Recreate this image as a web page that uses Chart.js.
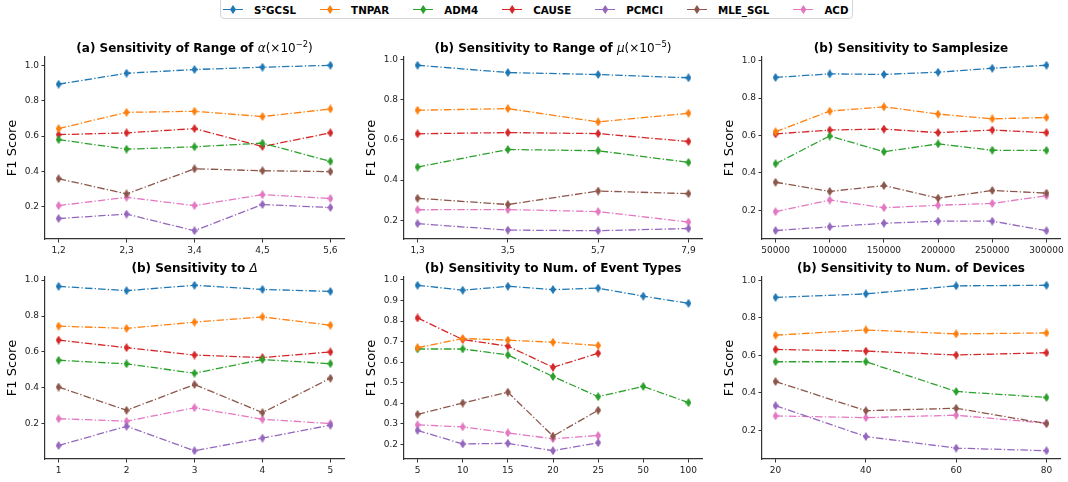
<!DOCTYPE html>
<html>
<head>
<meta charset="utf-8">
<script src="https://cdn.jsdelivr.net/npm/chart.js@4.4.1/dist/chart.umd.min.js"></script>
<style>
  body { margin: 0; width: 1068px; height: 482px; background: #fff; position: relative; overflow: hidden; font-family: "DejaVu Sans", sans-serif; }
  canvas { position: absolute; }
  #legend { position: absolute; left: 220px; top: -4px; width: 633px; height: 23px; border: 1px solid #d6d6d6; border-radius: 4px;
            display: flex; align-items: center; padding: 4px 0 0 2px; box-sizing: border-box; white-space: nowrap; }
  #legend .it { display: flex; align-items: center; margin-right: 24px; }
  #legend .ln { position: relative; width: 20px; height: 1.5px; margin-right: 11px; }
  #legend .ln i { position: absolute; left: 7px; top: -3.75px; width: 6px; height: 9px; clip-path: polygon(50% 0, 100% 50%, 50% 100%, 0 50%); }
  #legend b { font-size: 10.3px; color: #000; }
</style>
</head>
<body>
<div id="legend"></div>
<canvas id="c1"></canvas>
<canvas id="c2"></canvas>
<canvas id="c3"></canvas>
<canvas id="c4"></canvas>
<canvas id="c5"></canvas>
<canvas id="c6"></canvas>
<script>
// methods and colours (same order in every panel)
var methods = ['S²GCSL', 'TNPAR', 'ADM4', 'CAUSE', 'PCMCI', 'MLE_SGL', 'ACD'];
var colors = ['#1f77b4', '#ff7f0e', '#2ca02c', '#d62728', '#9467bd', '#8c564b', '#e377c2'];

// (a) range of alpha
var alphaLabels = ['1,2', '2,3', '3,4', '4,5', '5,6'];
var alphaF1 = [
  [0.893, 0.955, 0.976, 0.989, 1.000],
  [0.642, 0.734, 0.740, 0.710, 0.753],
  [0.580, 0.526, 0.539, 0.560, 0.457],
  [0.608, 0.618, 0.642, 0.541, 0.618],
  [0.134, 0.159, 0.065, 0.213, 0.196],
  [0.359, 0.273, 0.415, 0.404, 0.399],
  [0.207, 0.254, 0.207, 0.269, 0.247]
];

// (b) range of mu
var muLabels = ['1,3', '3,5', '5,7', '7,9'];
var muF1 = [
  [0.970, 0.934, 0.924, 0.908],
  [0.747, 0.755, 0.689, 0.732],
  [0.465, 0.552, 0.546, 0.488],
  [0.630, 0.636, 0.631, 0.592],
  [0.184, 0.152, 0.149, 0.160],
  [0.310, 0.279, 0.346, 0.333],
  [0.253, 0.254, 0.244, 0.192]
];

// sample size
var sampleSizes = [50000, 100000, 150000, 200000, 250000, 300000];
var sampleF1 = [
  [0.910, 0.929, 0.926, 0.938, 0.959, 0.975],
  [0.620, 0.730, 0.753, 0.714, 0.689, 0.696],
  [0.449, 0.597, 0.513, 0.555, 0.521, 0.520],
  [0.608, 0.629, 0.634, 0.615, 0.629, 0.615],
  [0.092, 0.112, 0.131, 0.142, 0.142, 0.091],
  [0.350, 0.301, 0.332, 0.265, 0.306, 0.292],
  [0.193, 0.255, 0.214, 0.227, 0.237, 0.278]
];

// delta
var deltaValues = [1, 2, 3, 4, 5];
var deltaF1 = [
  [0.965, 0.941, 0.971, 0.948, 0.937],
  [0.744, 0.731, 0.766, 0.795, 0.749],
  [0.554, 0.534, 0.482, 0.558, 0.535],
  [0.666, 0.624, 0.583, 0.569, 0.600],
  [0.080, 0.187, 0.051, 0.121, 0.193],
  [0.405, 0.276, 0.419, 0.263, 0.454],
  [0.229, 0.215, 0.290, 0.226, 0.202]
];

// number of event types (only S2GCSL and ADM4 go past 25)
var eventLabels = ['5', '10', '15', '20', '25', '50', '100'];
var eventF1 = [
  [0.974, 0.950, 0.969, 0.953, 0.960, 0.921, 0.886],
  [0.670, 0.715, 0.707, 0.697, 0.681, null, null],
  [0.664, 0.664, 0.635, 0.530, 0.432, 0.482, 0.403],
  [0.815, 0.710, 0.678, 0.575, 0.643, null, null],
  [0.268, 0.202, 0.205, 0.169, 0.208, null, null],
  [0.346, 0.401, 0.454, 0.240, 0.366, null, null],
  [0.295, 0.285, 0.256, 0.227, 0.243, null, null]
];

// number of devices
var deviceCounts = [20, 40, 60, 80];
var deviceF1 = [
  [0.910, 0.929, 0.972, 0.975],
  [0.708, 0.736, 0.715, 0.720],
  [0.566, 0.566, 0.407, 0.375],
  [0.632, 0.623, 0.602, 0.614],
  [0.331, 0.166, 0.104, 0.090],
  [0.460, 0.304, 0.317, 0.235],
  [0.276, 0.267, 0.280, 0.237]
];

var yTicksCoarse = [0.2, 0.4, 0.6, 0.8, 1.0];
var yTicksFine = [0.2, 0.3, 0.4, 0.5, 0.6, 0.7, 0.8, 0.9, 1.0];

var BOLD = 'bold 12px "DejaVu Sans"';
var REG = '12px "DejaVu Sans"';
var ITAL = 'italic 12px "DejaVu Sans"';
var SUP = '8.4px "DejaVu Sans"';

//thin diamond marker, one per colour
function diamond(color) {
  var c = document.createElement('canvas');
  c.width = 6; c.height = 9;
  var g = c.getContext('2d');
  g.fillStyle = color;
  g.beginPath();
  g.moveTo(3, 0); g.lineTo(6, 4.5); g.lineTo(3, 9); g.lineTo(0, 4.5);
  g.closePath();
  g.fill();
  return c;
}

//title drawn over the plot area, with mixed bold / math parts
var panelTitle = {
  id: 'panelTitle',
  afterDraw: function(chart, args, opts) {
    var ctx = chart.ctx, a = chart.chartArea, w = 0;
    ctx.save();
    ctx.fillStyle = '#000';
    ctx.textBaseline = 'alphabetic';
    opts.parts.forEach(function(p) { ctx.font = p.font; w += ctx.measureText(p.text).width; });
    var x = (a.left + a.right) / 2 - w / 2;
    opts.parts.forEach(function(p) {
      ctx.font = p.font;
      ctx.fillText(p.text, x, a.top - 5.5 - (p.rise || 0));
      x += ctx.measureText(p.text).width;
    });
    ctx.restore();
  }
};

//matplotlib style 5% margins
function padRange(vals) {
  var lo = Math.min.apply(null, vals), hi = Math.max.apply(null, vals);
  var m = (hi - lo) * 0.05;
  return [lo - m, hi + m];
}

function makePanel(id, box, parts, xs, xLabels, scores, yTicks) {
  var cv = document.getElementById(id);
  cv.width = box.R - box.L + 55;
  cv.height = box.B - box.T + 53;
  cv.style.left = (box.L - 45) + 'px';
  cv.style.top = (box.T - 30) + 'px';

  var all = [];
  scores.forEach(function(s) { s.forEach(function(v) { if (v !== null) all.push(v); }); });
  var yr = padRange(all);
  var xr = padRange(xs);

  var datasets = scores.map(function(s, i) {
    return {
      label: methods[i],
      data: s.map(function(v, j) { return {x: xs[j], y: v}; }),
      borderColor: colors[i],
      backgroundColor: colors[i],
      borderWidth: 1.3,
      borderDash: [7.5, 2.2, 1.3, 2.2],
      pointStyle: diamond(colors[i]),
      tension: 0,
      spanGaps: false
    };
  });

  var tickFont = {family: 'DejaVu Sans', size: 9};
  return new Chart(cv, {
    type: 'line',
    data: {datasets: datasets},
    plugins: [panelTitle],
    options: {
      responsive: false,
      animation: false,
      events: [],
      layout: {padding: {top: 30, right: 10, left: 0, bottom: 0}},
      plugins: {
        legend: {display: false},
        tooltip: {enabled: false},
        panelTitle: {parts: parts}
      },
      scales: {
        x: {
          type: 'linear',
          min: xr[0], max: xr[1],
          afterBuildTicks: function(sc) { sc.ticks = xs.map(function(v) { return {value: v}; }); },
          afterFit: function(sc) { sc.height = 23; sc.paddingLeft = 0; sc.paddingRight = 0; },
          ticks: {
            font: tickFont, color: '#222', padding: 3, maxRotation: 0, autoSkip: false,
            callback: function(v) {
              if (xLabels) return xLabels[xs.indexOf(v)];
              return String(v);
            }
          },
          grid: {drawOnChartArea: false, drawTicks: true, tickLength: 3.5, color: '#333', lineWidth: 1},
          border: {display: true, color: '#333', width: 1.2}
        },
        y: {
          type: 'linear',
          min: yr[0], max: yr[1],
          afterBuildTicks: function(sc) { sc.ticks = yTicks.map(function(v) { return {value: v}; }); },
          afterFit: function(sc) { sc.width = 45; sc.paddingTop = 0; sc.paddingBottom = 0; },
          ticks: {
            font: tickFont, color: '#222', padding: 2.5,
            callback: function(v) { return v.toFixed(1); }
          },
          title: {display: true, text: 'F1 Score', color: '#000', font: {family: 'DejaVu Sans', size: 13}, padding: {top: 5, bottom: 0}},
          grid: {drawOnChartArea: false, drawTicks: true, tickLength: 3.5, color: '#333', lineWidth: 1},
          border: {display: true, color: '#333', width: 1.2}
        }
      }
    }
  });
}

function idx(n) { var r = []; for (var i = 0; i < n; i++) r.push(i); return r; }

makePanel('c1', {L: 45, T: 57, R: 344, B: 239},
  [{text: '(a) Sensitivity of Range of ', font: BOLD}, {text: 'α', font: ITAL}, {text: '(×10', font: REG},
   {text: '−2', font: SUP, rise: 4.5}, {text: ')', font: REG}],
  idx(alphaLabels.length), alphaLabels, alphaF1, yTicksCoarse);
makePanel('c2', {L: 404, T: 57, R: 702, B: 239},
  [{text: '(b) Sensitivity to Range of ', font: BOLD}, {text: 'μ', font: ITAL}, {text: '(×10', font: REG},
   {text: '−5', font: SUP, rise: 4.5}, {text: ')', font: REG}],
  idx(muLabels.length), muLabels, muF1, yTicksCoarse);
makePanel('c3', {L: 762, T: 57, R: 1060, B: 239},
  [{text: '(b) Sensitivity to Samplesize', font: BOLD}],
  sampleSizes, null, sampleF1, yTicksCoarse);
makePanel('c4', {L: 45, T: 277, R: 344, B: 459},
  [{text: '(b) Sensitivity to ', font: BOLD}, {text: 'Δ', font: ITAL}],
  deltaValues, null, deltaF1, yTicksCoarse);
makePanel('c5', {L: 404, T: 277, R: 702, B: 459},
  [{text: '(b) Sensitivity to Num. of Event Types', font: BOLD}],
  idx(eventLabels.length), eventLabels, eventF1, yTicksFine);
makePanel('c6', {L: 762, T: 277, R: 1060, B: 459},
  [{text: '(b) Sensitivity to Num. of Devices', font: BOLD}],
  deviceCounts, null, deviceF1, yTicksCoarse);

//shared legend across the top
var legend = document.getElementById('legend');
for (var i = 0; i < methods.length; i++) {
  var it = document.createElement('span');
  it.className = 'it';
  it.innerHTML = '<span class="ln" style="background:' + colors[i] + '"><i style="background:' + colors[i] + '"></i></span><b>' + methods[i] + '</b>';
  legend.appendChild(it);
}
</script>
</body>
</html>
